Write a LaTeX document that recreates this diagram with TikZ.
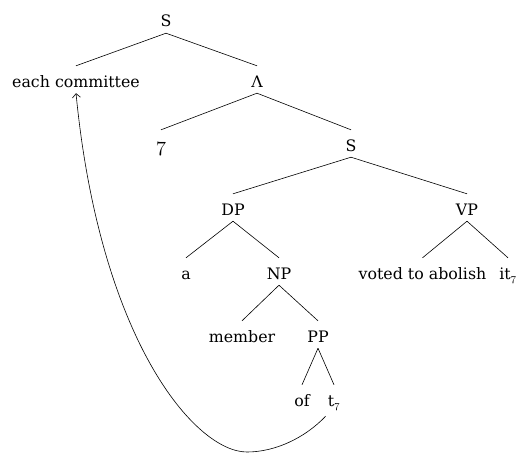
\documentclass[tikz,border=0pt]{standalone}
\usepackage{fix-cm}
\usepackage{fontspec}
\setmainfont{DejaVu Serif}
\usetikzlibrary{arrows.meta}
\newcommand{\osn}[1]{{\usefont{OML}{lmm}{m}{it}#1}}
\tikzset{
  tn/.style={anchor=base, inner xsep=2pt, inner ysep=3pt, text height=18pt, text depth=3pt,
             font=\fontsize{15.8}{19}\selectfont},
  br/.style={line width=0.6pt},
  mv/.style={line width=0.6pt, -{Straight Barb[length=4pt,width=8pt]}}
}
\begin{document}
\begin{tikzpicture}[x=1pt, y=-1pt]
\useasboundingbox (0,0) rectangle (524,452);
% nodes (x centre, baseline)
\node[tn] (S0) at (166,27) {S};
\node[tn] (ec) at (76,87) {each committee};
\node[tn] (L) at (257,87) {Λ};
\node[tn] (n7) at (161,151) {\fontsize{21}{24}\selectfont\osn{7}};
\node[tn] (S2) at (351,151) {S};
\node[tn] (DP) at (233,215) {DP};
\node[tn] (VP) at (467,215) {VP};
\node[tn] (a) at (186,279) {a};
\node[tn] (NP) at (279,279) {NP};
\node[tn] (vt) at (422.5,279) {voted to abolish};
\node[tn] (it) at (508,279) {it\textsubscript{\osn{7}}};
\node[tn] (mb) at (242,342) {member};
\node[tn] (PP) at (318,342) {PP};
\node[tn] (of) at (302,406) {of};
\node[tn] (t7) at (334,406) {t\textsubscript{\osn{7}}};
% branches
\draw[br] (S0.south) -- (ec.north);
\draw[br] (S0.south) -- (L.north);
\draw[br] (L.south) -- (n7.north);
\draw[br] (L.south) -- (S2.north);
\draw[br] (S2.south) -- (DP.north);
\draw[br] (S2.south) -- (VP.north);
\draw[br] (DP.south) -- (a.north);
\draw[br] (DP.south) -- (NP.north);
\draw[br] (VP.south) -- (vt.north);
\draw[br] (VP.south) -- (it.north);
\draw[br] (NP.south) -- (mb.north);
\draw[br] (NP.south) -- (PP.north);
\draw[br] (PP.south) -- (of.north);
\draw[br] (PP.south) -- (t7.north);
% movement arrow
\coordinate (bt) at (247,452);
\draw[mv] ([yshift=-4pt]t7.south west) .. controls (305,438) and (275,452) .. (bt)
   .. controls (195,452) and (100,340) .. (ec.south);
\end{tikzpicture}
\end{document}
